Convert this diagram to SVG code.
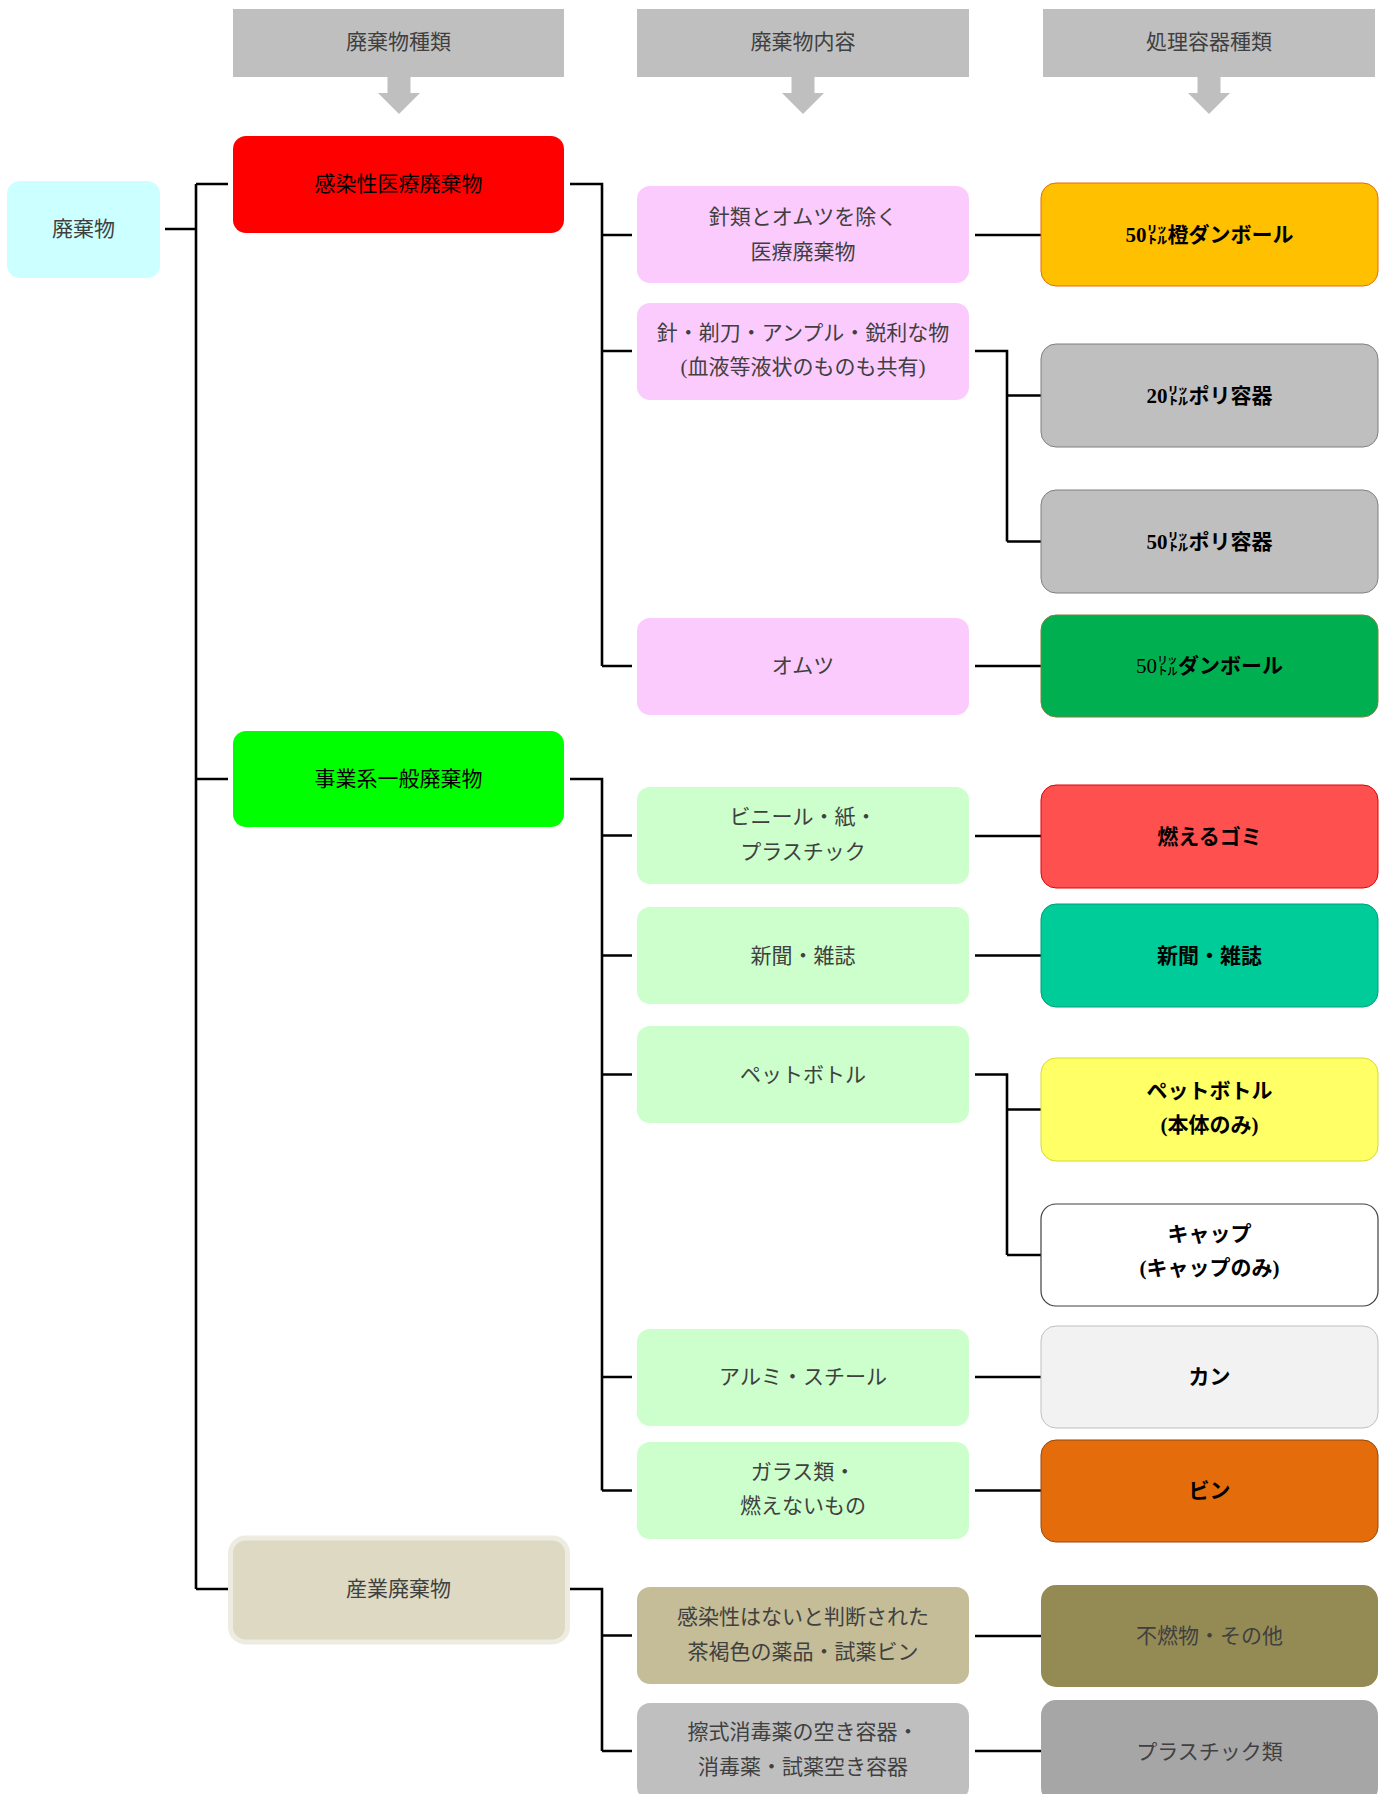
<svg xmlns="http://www.w3.org/2000/svg" width="1387" height="1794" viewBox="0 0 1387 1794">
<style>
text{font-family:"Liberation Serif","Noto Sans CJK JP",serif;font-size:21px;text-anchor:middle;dominant-baseline:central;fill:#404040}
.hdr rect{fill:#BFBFBF}
.hdr path{fill:#BFBFBF}
.b{font-weight:bold;fill:#000}
.k{fill:#000}
.n{font-weight:normal}
.conn path{fill:none;stroke:#000;stroke-width:2.6}
</style>
<rect width="1387" height="1794" fill="#fff"/>
<g id="hdr1" class="hdr"><rect x="233" y="9" width="331" height="68"/><path d="M387.5,76 h23 v17 h9.5 L399,114 L378,93 h9.5 z"/><text x="398.5" y="42">廃棄物種類</text></g>
<g id="hdr2" class="hdr"><rect x="637" y="9" width="332" height="68"/><path d="M791.5,76 h23 v17 h9.5 L803,114 L782,93 h9.5 z"/><text x="803" y="42">廃棄物内容</text></g>
<g id="hdr3" class="hdr"><rect x="1043" y="9" width="332" height="68"/><path d="M1197.5,76 h23 v17 h9.5 L1209,114 L1188,93 h9.5 z"/><text x="1209" y="42">処理容器種類</text></g>

<g class="conn" id="connectors">
<path d="M165,229 H196 M196,184 V1589 M196,184 H228 M196,779 H228 M196,1589 H228"/>
<path d="M570,184 H602 V666 M602,235 H632 M602,351 H632 M602,666 H632"/>
<path d="M570,779 H602 V1490.5 M602,835.5 H632 M602,955.5 H632 M602,1074.5 H632 M602,1377 H632 M602,1490.5 H632"/>
<path d="M570,1589 H602 V1751 M602,1635.5 H632 M602,1751 H632"/>
<path d="M975,235 H1041 M975,666 H1041 M975,836 H1041 M975,955.5 H1041 M975,1377 H1041 M975,1490.5 H1041 M975,1636 H1041 M975,1751 H1041"/>
<path d="M975,351 H1007 V541.5 M1007,395.5 H1041 M1007,541.5 H1041"/>
<path d="M975,1074.5 H1007 V1255 M1007,1109.5 H1041 M1007,1255 H1041"/>
</g>

<g id="root"><rect x="7" y="181" width="153" height="97" rx="13" fill="#CCFFFF"/><text x="83.5" y="229">廃棄物</text></g>

<g id="infect"><rect x="233" y="136" width="331" height="97" rx="13" fill="#FF0000"/><text class="k" x="398.5" y="184">感染性医療廃棄物</text></g>
<g id="general"><rect x="233" y="731" width="331" height="96" rx="13" fill="#00FF00"/><text class="k" x="398.5" y="779">事業系一般廃棄物</text></g>
<g id="industrial"><rect x="230.5" y="1538" width="337" height="104" rx="15" fill="#DDD9C3" stroke="#EEECE1" stroke-width="5"/><text x="398.5" y="1589">産業廃棄物</text></g>

<g id="c2a"><rect x="637" y="186" width="332" height="97" rx="13" fill="#FCCBFE"/><text x="803" y="217">針類とオムツを除く</text><text x="803" y="252">医療廃棄物</text></g>
<g id="c2b"><rect x="637" y="303" width="332" height="97" rx="13" fill="#FCCBFE"/><text x="803" y="333">針・剃刀・アンプル・鋭利な物</text><text x="803" y="367">(血液等液状のものも共有)</text></g>
<g id="c2c"><rect x="637" y="618" width="332" height="97" rx="13" fill="#FCCBFE"/><text x="803" y="666">オムツ</text></g>
<g id="c2d"><rect x="637" y="787" width="332" height="97" rx="13" fill="#CCFFCC"/><text x="803" y="817">ビニール・紙・</text><text x="803" y="852">プラスチック</text></g>
<g id="c2e"><rect x="637" y="907" width="332" height="97" rx="13" fill="#CCFFCC"/><text x="803" y="955.5">新聞・雑誌</text></g>
<g id="c2f"><rect x="637" y="1026" width="332" height="97" rx="13" fill="#CCFFCC"/><text x="803" y="1074.5">ペットボトル</text></g>
<g id="c2g"><rect x="637" y="1329" width="332" height="97" rx="13" fill="#CCFFCC"/><text x="803" y="1377">アルミ・スチール</text></g>
<g id="c2h"><rect x="637" y="1442" width="332" height="97" rx="13" fill="#CCFFCC"/><text x="803" y="1472">ガラス類・</text><text x="803" y="1506">燃えないもの</text></g>
<g id="c2i"><rect x="637" y="1587" width="332" height="97" rx="13" fill="#C4BD97"/><text x="803" y="1617">感染性はないと判断された</text><text x="803" y="1652">茶褐色の薬品・試薬ビン</text></g>
<g id="c2j"><rect x="637" y="1703" width="332" height="97" rx="13" fill="#BFBFBF"/><text x="803" y="1732">擦式消毒薬の空き容器・</text><text x="803" y="1767">消毒薬・試薬空き容器</text></g>

<g id="c3a"><rect x="1041" y="183" width="337" height="103" rx="15" fill="#FFC000" stroke="#E46C0A" stroke-width="1"/><text class="b" x="1209.5" y="234.5">50㍑橙ダンボール</text></g>
<g id="c3b"><rect x="1041" y="344" width="337" height="103" rx="15" fill="#BFBFBF" stroke="#7F7F7F" stroke-width="1"/><text class="b" x="1209.5" y="395.5">20㍑ポリ容器</text></g>
<g id="c3c"><rect x="1041" y="490" width="337" height="103" rx="15" fill="#BFBFBF" stroke="#7F7F7F" stroke-width="1"/><text class="b" x="1209.5" y="541.5">50㍑ポリ容器</text></g>
<g id="c3d"><rect x="1041" y="615" width="337" height="102" rx="15" fill="#00B050" stroke="#7F7F3F" stroke-width="1"/><text class="b" x="1209.5" y="666"><tspan class="n">50㍑</tspan>ダンボール</text></g>
<g id="c3e"><rect x="1041" y="785" width="337" height="103" rx="15" fill="#FF5050" stroke="#E00000" stroke-width="1"/><text class="b" x="1209.5" y="836.5">燃えるゴミ</text></g>
<g id="c3f"><rect x="1041" y="904" width="337" height="103" rx="15" fill="#00CC99" stroke="#009E76" stroke-width="1"/><text class="b" x="1209.5" y="955.5">新聞・雑誌</text></g>
<g id="c3g"><rect x="1041" y="1058" width="337" height="103" rx="15" fill="#FFFF66" stroke="#D9D930" stroke-width="1"/><text class="b" x="1209.5" y="1091">ペットボトル</text><text class="b" x="1209.5" y="1125">(本体のみ)</text></g>
<g id="c3h"><rect x="1041" y="1204" width="337" height="102" rx="15" fill="#FFFFFF" stroke="#404040" stroke-width="1.2"/><text class="b" x="1209.5" y="1234">キャップ</text><text class="b" x="1209.5" y="1268">(キャップのみ)</text></g>
<g id="c3i"><rect x="1041" y="1326" width="337" height="102" rx="15" fill="#F2F2F2" stroke="#BFBFBF" stroke-width="1"/><text class="b" x="1209.5" y="1377">カン</text></g>
<g id="c3j"><rect x="1041" y="1440" width="337" height="102" rx="15" fill="#E46C0A" stroke="#984807" stroke-width="1"/><text class="b" x="1209.5" y="1491">ビン</text></g>
<g id="c3k"><rect x="1041" y="1585" width="337" height="102" rx="15" fill="#948A54"/><text x="1209.5" y="1636" fill="#262626">不燃物・その他</text></g>
<g id="c3l"><rect x="1041" y="1700" width="337" height="103" rx="15" fill="#A6A6A6"/><text x="1209.5" y="1751.5">プラスチック類</text></g>
</svg>
